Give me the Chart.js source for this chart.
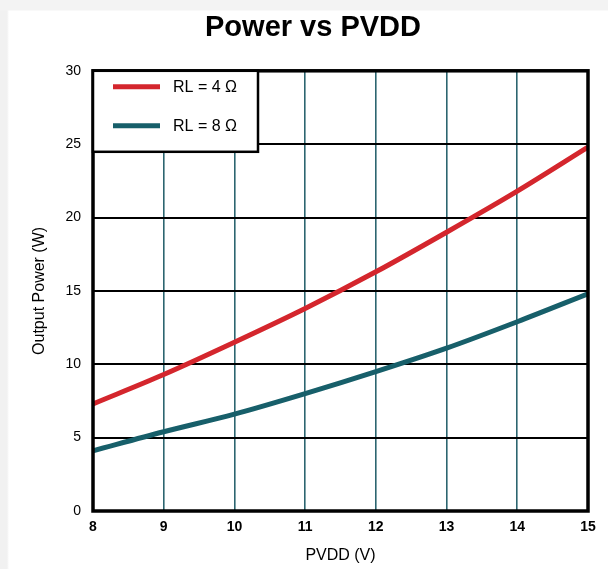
<!DOCTYPE html>
<html lang="en">
<head>
  <meta charset="UTF-8">
  <title>Power vs PVDD</title>
  <script src="https://cdn.jsdelivr.net/npm/chart.js"></script>
  <style>
    html, body {
      margin: 0;
      padding: 0;
      background: #ffffff;
    }
    #chart-container {
      width: 608px;
      height: 569px;
    }
    canvas {
      /* faint grey page edge seen at the top and left of the original */
      background:
        linear-gradient(to bottom, #f3f3f3 0, #f3f3f3 10px, transparent 11px),
        linear-gradient(to right, #f1f1f1 0, #f1f1f1 7px, transparent 9px),
        #ffffff;
    }
  </style>
</head>
<body>
  <div id="chart-container">
    <canvas id="powerChart" width="608" height="569"></canvas>
  </div>

  <script>
    // PVDD supply voltage (V)
    const pvdd = [8, 9, 10, 11, 12, 13, 14, 15];
    // Output power (W)
    const power4 = [7.3, 9.3, 11.5, 13.8, 16.3, 19.0, 21.8, 24.8];
    const power8 = [4.1, 5.4, 6.6, 8.0, 9.5, 11.1, 12.9, 14.8];
    const seriesLabels = ["RL = 4 \u03A9", "RL = 8 \u03A9"];
    const yTicks = [0, 5, 10, 15, 20, 25, 30];

    const red = "#d4262d";
    const teal = "#175f6a";
    const font = "'Liberation Sans', Arial, sans-serif";

    // Black frame around the plot area
    const framePlugin = {
      id: "frame",
      afterDatasetsDraw(chart) {
        const { ctx, chartArea: a } = chart;
        ctx.save();
        ctx.strokeStyle = "#000";
        ctx.lineWidth = 3.5;
        ctx.strokeRect(a.left, a.top, a.right - a.left, a.bottom - a.top);
        ctx.restore();
      }
    };

    // Legend box sitting in the top-left corner of the plot
    const boxLegend = {
      id: "boxLegend",
      afterDraw(chart) {
        const { ctx, chartArea: a } = chart;
        const w = 165, h = 81;
        ctx.save();
        ctx.fillStyle = "#fff";
        ctx.fillRect(a.left, a.top, w, h);
        ctx.strokeStyle = "#000";
        ctx.lineWidth = 2.5;
        ctx.strokeRect(a.left, a.top, w, h);
        ctx.font = "16px " + font;
        ctx.textBaseline = "middle";
        chart.data.datasets.forEach((ds, i) => {
          const y = a.top + 16 + i * 39;
          ctx.strokeStyle = ds.borderColor;
          ctx.lineWidth = 5;
          ctx.beginPath();
          ctx.moveTo(a.left + 20, y);
          ctx.lineTo(a.left + 67, y);
          ctx.stroke();
          ctx.fillStyle = "#000";
          ctx.fillText(ds.label, a.left + 80, y + 1);
        });
        ctx.restore();
      }
    };

    const ctx = document.getElementById("powerChart").getContext("2d");

    new Chart(ctx, {
      type: "line",
      data: {
        labels: pvdd,
        datasets: [
          {
            label: seriesLabels[0],
            data: pvdd.map((v, i) => ({ x: v, y: power4[i] })),
            borderColor: red,
            borderWidth: 5,
            pointRadius: 0,
            cubicInterpolationMode: "monotone"
          },
          {
            label: seriesLabels[1],
            data: pvdd.map((v, i) => ({ x: v, y: power8[i] })),
            borderColor: teal,
            borderWidth: 5,
            pointRadius: 0,
            cubicInterpolationMode: "monotone"
          }
        ]
      },
      options: {
        responsive: false,
        animation: false,
        layout: {
          padding: { left: 18, right: 0, top: 0, bottom: 0 }
        },
        plugins: {
          legend: { display: false },
          tooltip: { enabled: false },
          title: {
            display: true,
            text: "Power vs PVDD",
            color: "#000",
            font: { family: font, size: 29, weight: "bold" },
            padding: { top: 11, bottom: 25 }
          }
        },
        scales: {
          x: {
            type: "linear",
            min: 8,
            max: 15,
            ticks: {
              stepSize: 1,
              color: "#000",
              padding: 8,
              font: { family: font, size: 14, weight: "bold" }
            },
            grid: { color: "#2c6570", lineWidth: 1.6, drawTicks: false },
            border: { display: false },
            title: {
              display: true,
              text: "PVDD (V)",
              color: "#000",
              font: { family: font, size: 16 },
              padding: { top: 6 }
            },
            afterFit(scale) { scale.height = 58; }
          },
          y: {
            min: 0,
            max: 30,
            afterBuildTicks(scale) {
              scale.ticks = yTicks.map(v => ({ value: v }));
            },
            ticks: {
              color: "#000",
              padding: 12,
              font: { family: font, size: 14 }
            },
            grid: { color: "#000", lineWidth: 2, drawTicks: false },
            border: { display: false },
            title: {
              display: true,
              text: "Output Power (W)",
              color: "#000",
              font: { family: font, size: 16 },
              padding: { top: 12, bottom: 4 }
            },
            afterFit(scale) { scale.width = 75; }
          },
          // empty right-hand margin so the plot stops where the original does
          yRight: {
            position: "right",
            min: 0,
            max: 30,
            ticks: { display: false },
            grid: { display: false },
            border: { display: false },
            afterFit(scale) { scale.width = 20; }
          }
        }
      },
      plugins: [framePlugin, boxLegend]
    });
  </script>
</body>
</html>
